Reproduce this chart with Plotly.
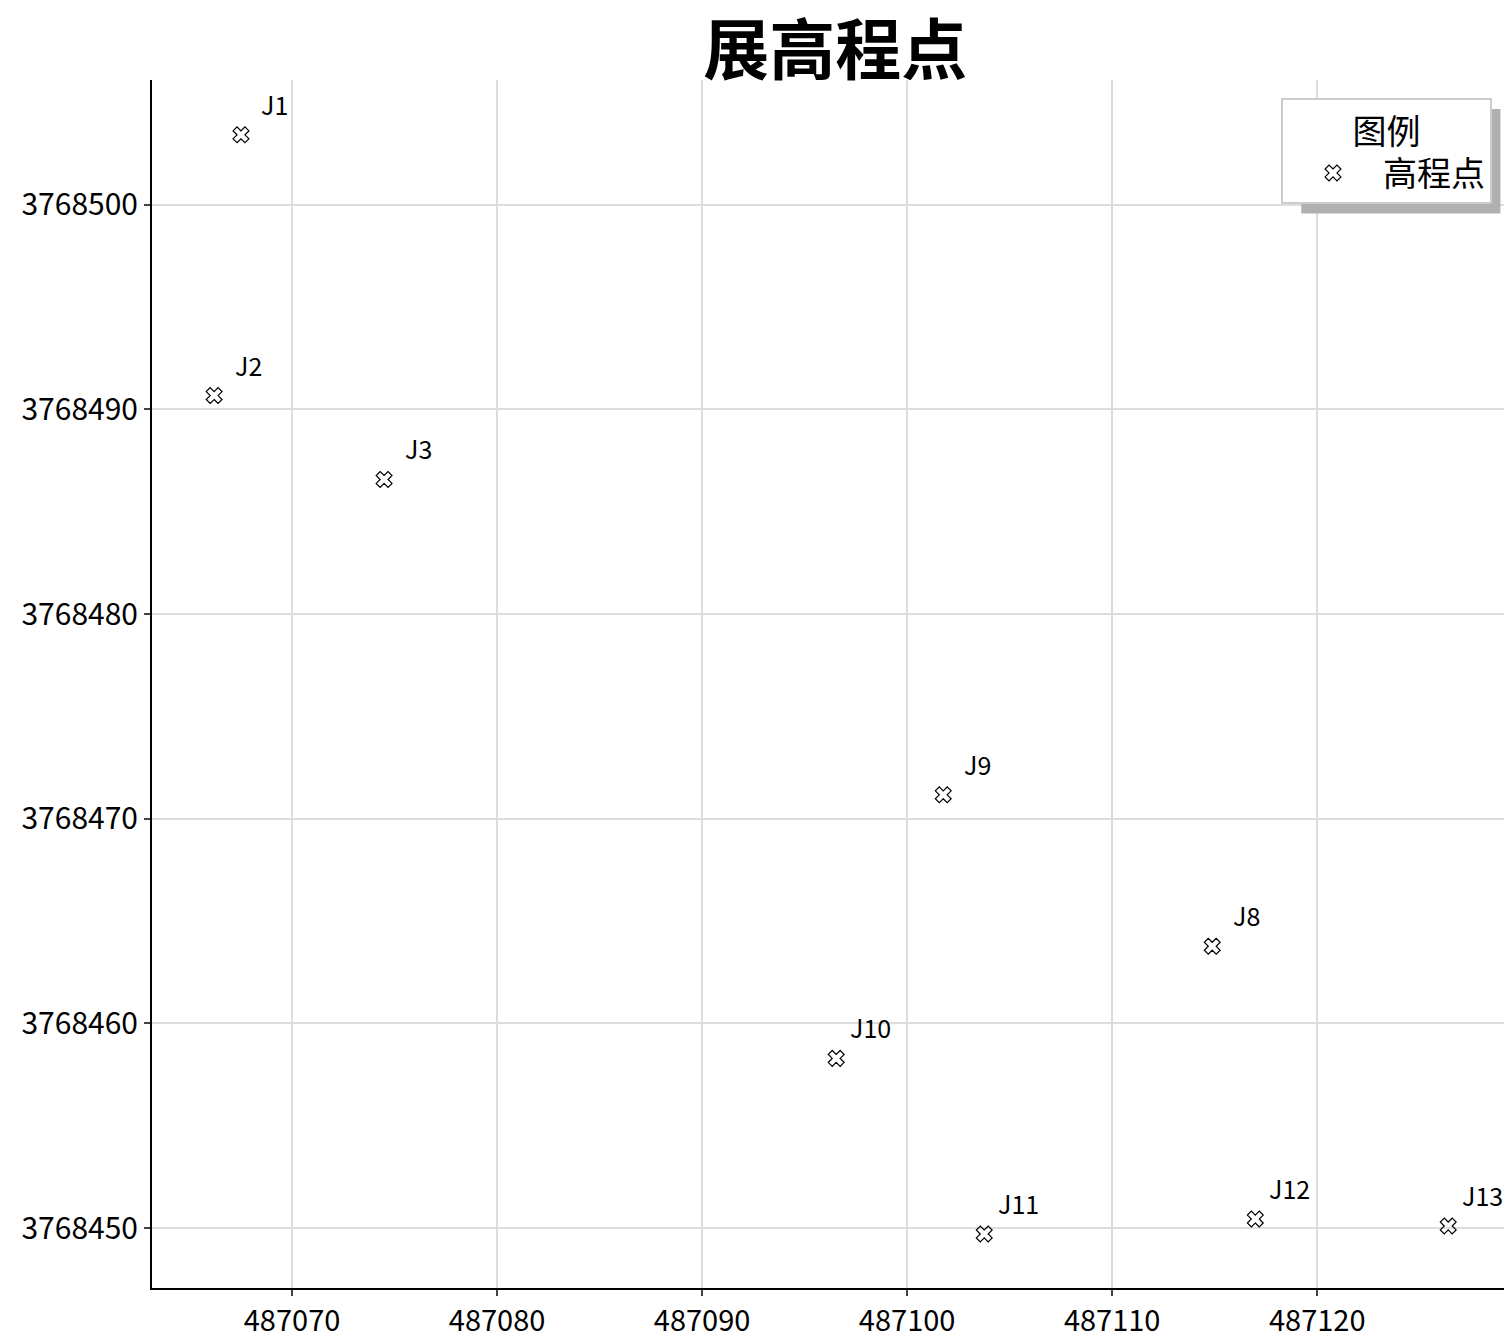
import plotly.graph_objects as go

names = ["J1", "J2", "J3", "J9", "J8", "J10", "J11", "J12", "J13"]
xs = [487067.51, 487066.20, 487074.49, 487101.76, 487114.88, 487096.54, 487103.76, 487116.98, 487126.39]
ys = [3768503.42, 3768490.68, 3768486.58, 3768471.17, 3768463.77, 3768458.29, 3768449.71, 3768450.44, 3768450.10]

font = "Noto Sans CJK SC"

fig = go.Figure()
fig.add_trace(go.Scatter(
    x=xs, y=ys, mode="markers", name="高程点",
    marker=dict(symbol="x-open", size=14, color="black",
                line=dict(color="black", width=1.2)),
))

for n, x, y in zip(names, xs, ys):
    fig.add_annotation(x=x, y=y, text=n, showarrow=False, xshift=34, yshift=31,
                       font=dict(size=25, color="black", family=font))

# legend shadow
fig.add_shape(type="rect", xref="paper", yref="paper",
              x0=0.845, x1=0.9915, y0=0.8895, y1=0.9760,
              fillcolor="#b0b0b0", line=dict(width=0), layer="above")

fig.update_layout(
    width=1504, height=1336,
    margin=dict(l=144, r=0, t=72, b=56),
    plot_bgcolor="white", paper_bgcolor="white",
    font=dict(family=font, size=30, color="black"),
    title=dict(text="<b>展高程点</b>", x=0.55, xanchor="center", y=0.968, yanchor="middle",
               font=dict(size=66, family=font)),
    showlegend=True,
    legend=dict(x=0.9853, y=0.985, xanchor="right", yanchor="top",
                bgcolor="white", bordercolor="#cccccc", borderwidth=2,
                title=dict(text="图例", side="top center", font=dict(size=34)),
                font=dict(size=34), itemwidth=90),
)
fig.update_xaxes(range=[487063.17, 487129.5], tickvals=[487070, 487080, 487090, 487100, 487110, 487120],
                 tickformat="d", showgrid=True, gridcolor="#dddddd", gridwidth=1.5,
                 showline=True, linecolor="black", linewidth=2, ticks="outside",
                 ticklen=6, tickwidth=2, zeroline=False, tickfont=dict(size=29), automargin=False)
fig.update_yaxes(range=[3768447.07, 3768506.1], tickvals=[3768450, 3768460, 3768470, 3768480, 3768490, 3768500],
                 tickformat="d", showgrid=True, gridcolor="#dddddd", gridwidth=1.5,
                 showline=True, linecolor="black", linewidth=2, ticks="outside",
                 ticklen=6, tickwidth=2, zeroline=False, tickfont=dict(size=30), automargin=False)

fig.write_html("out.html")
